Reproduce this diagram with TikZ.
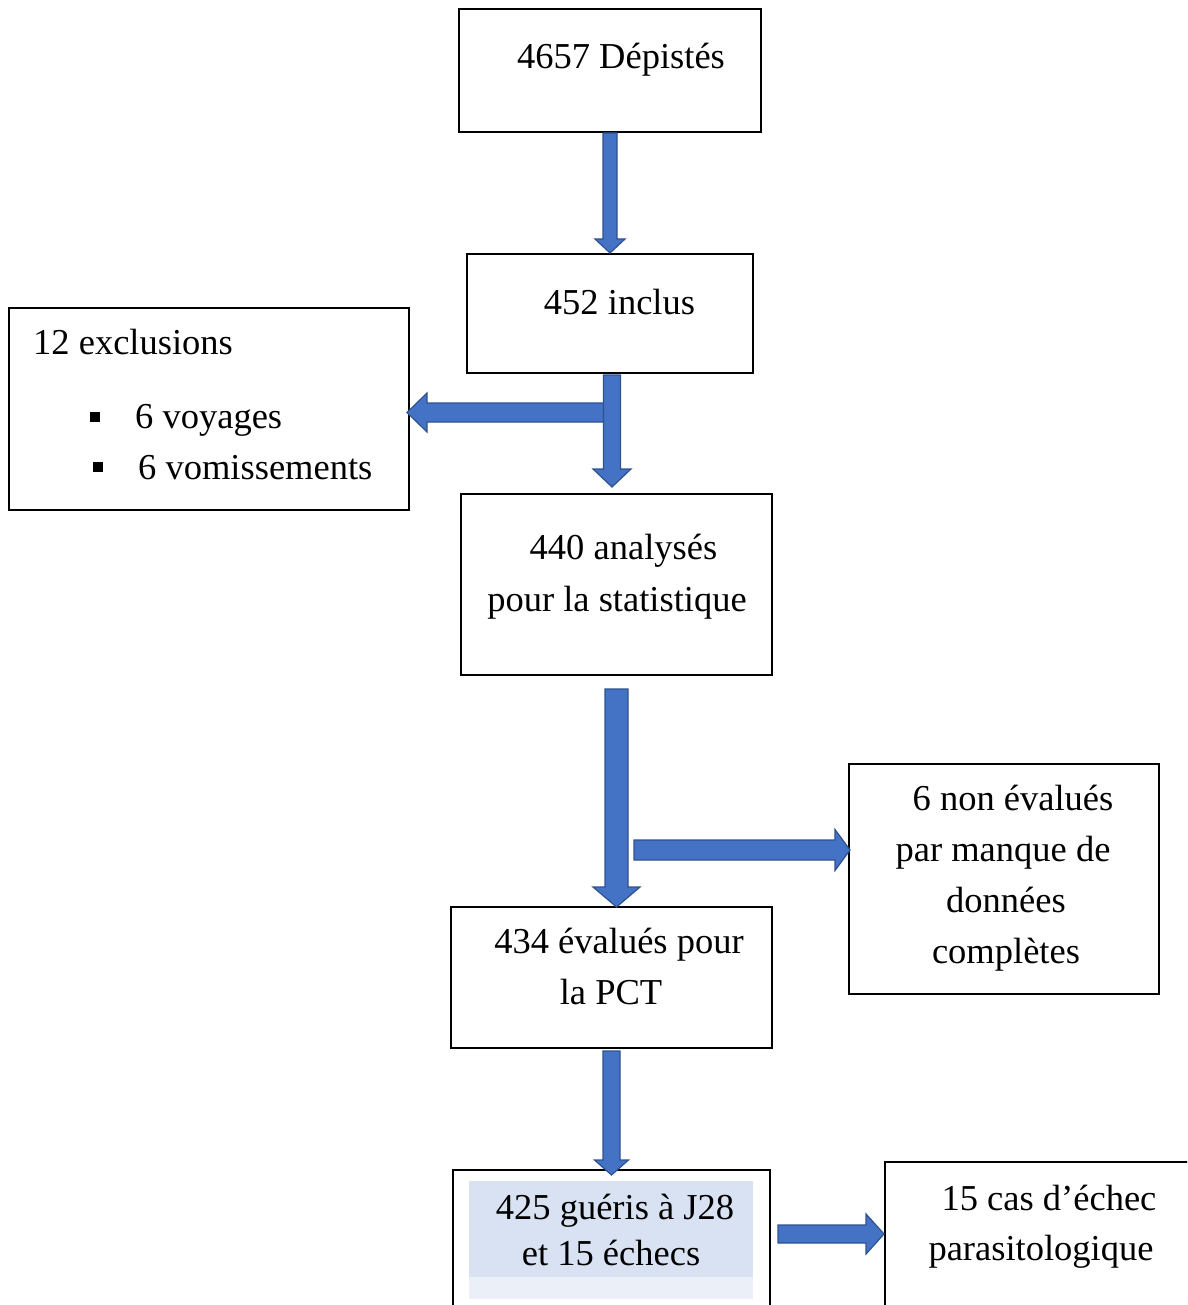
\documentclass[tikz,border=0pt]{standalone}
\usepackage{fontspec}
\setmainfont{Liberation Serif}
\usetikzlibrary{calc}
\definecolor{arrowfill}{HTML}{4472C4}
\definecolor{arrowline}{HTML}{2F528F}
\definecolor{shadeA}{HTML}{D9E2F3}
\definecolor{shadeB}{HTML}{EAEFF8}
\tikzset{
  box/.style={draw=black, line width=2pt, fill=none, inner sep=0pt, rectangle},
  txt/.style={anchor=base, inner sep=0pt, font=\fontsize{36.5}{44}\selectfont},
  blockarrow/.style={fill=arrowfill, draw=arrowline, line width=1.2pt, line join=miter},
  bulletsq/.style={fill=black, inner sep=0pt, minimum size=10pt, rectangle}
}
% down arrow: start, tip, half shaft, half head, head length
\newcommand\darrowblk[5]{\path[blockarrow] let \p1=(#1), \p2=(#2) in
  (\x1-#3pt,\y1) -- (\x1+#3pt,\y1) -- (\x1+#3pt,\y2+#5pt) -- (\x1+#4pt,\y2+#5pt)
  -- (\x1,\y2) -- (\x1-#4pt,\y2+#5pt) -- (\x1-#3pt,\y2+#5pt) -- cycle;}
\newcommand\rarrowblk[5]{\path[blockarrow] let \p1=(#1), \p2=(#2) in
  (\x1,\y1+#3pt) -- (\x2-#5pt,\y1+#3pt) -- (\x2-#5pt,\y1+#4pt) -- (\x2,\y1)
  -- (\x2-#5pt,\y1-#4pt) -- (\x2-#5pt,\y1-#3pt) -- (\x1,\y1-#3pt) -- cycle;}
\newcommand\larrowblk[5]{\path[blockarrow] let \p1=(#1), \p2=(#2) in
  (\x1,\y1+#3pt) -- (\x2+#5pt,\y1+#3pt) -- (\x2+#5pt,\y1+#4pt) -- (\x2,\y1)
  -- (\x2+#5pt,\y1-#4pt) -- (\x2+#5pt,\y1-#3pt) -- (\x1,\y1-#3pt) -- cycle;}
\begin{document}
\begin{tikzpicture}[x=1pt,y=-1pt]
\clip (0,0) rectangle (1187,1305);
\fill[white] (0,0) rectangle (1187,1305);

% boxes
\node[box, minimum width=302pt, minimum height=123pt] (b1) at (610,70.5) {};
\node[box, minimum width=286pt, minimum height=119pt] (b2) at (610,313.5) {};
\node[box, minimum width=400pt, minimum height=202pt] (b3) at (209,409) {};
\node[box, minimum width=311pt, minimum height=181pt] (b4) at (616.5,584.5) {};
\node[box, minimum width=310pt, minimum height=230pt] (b5) at (1004,879) {};
\node[box, minimum width=321pt, minimum height=141pt] (b6) at (611.5,977.5) {};
\node[box, minimum width=317pt, minimum height=150pt] (b7) at (611.5,1245) {};
\node[box, minimum width=315pt, minimum height=158pt] (b8) at (1042.5,1241) {};

% shading inside box 7
\fill[shadeB] (469,1277) rectangle (753,1299);
\fill[shadeA] (469,1181) rectangle (753,1277);

% texts
\node[txt] (t1) at (621,69) {4657 Dépistés};
\node[txt] (t2) at (619.5,314) {452 inclus};
\node[txt, anchor=base west] (t3) at (33,354) {12 exclusions};
\node[bulletsq] (u1) at (95,417) {};
\node[txt, anchor=base west] (t3a) at (135,428) {6 voyages};
\node[bulletsq] (u2) at (98,467) {};
\node[txt, anchor=base west] (t3b) at (138,479) {6 vomissements};
\node[txt] (t4a) at (623.5,559) {440 analysés};
\node[txt] (t4b) at (617,611) {pour la statistique};
\node[txt] (t5a) at (1013,810) {6 non évalués};
\node[txt] (t5b) at (1003,861) {par manque de};
\node[txt] (t5c) at (1006,912) {données};
\node[txt] (t5d) at (1006,963) {complètes};
\node[txt] (t6a) at (619,953) {434 évalués pour};
\node[txt] (t6b) at (611,1004) {la PCT};
\node[txt] (t7a) at (615,1219) {425 guéris à J28};
\node[txt] (t7b) at (611,1265) {et 15 échecs};
\node[txt] (t8a) at (1049,1210) {15 cas d’échec};
\node[txt] (t8b) at (1041,1260) {parasitologique};

% connector coordinates
\coordinate (a2s) at (612,375);
\coordinate (a2e) at (612,487);
\coordinate (a3s) at (605,412.5);
\coordinate (a3e) at (407,412.5);
\coordinate (a4s) at (616.5,689);
\coordinate (a4e) at (616.5,907);
\coordinate (a5s) at (634,850);
\coordinate (a5e) at (850,850);
\coordinate (a6s) at (611.5,1051);
\coordinate (a6e) at (611.5,1175);
\coordinate (a7s) at (778,1234);
\coordinate (a7e) at (884,1234);

% arrows
\darrowblk{b1.south}{b2.north}{7}{15}{14}
\larrowblk{a3s}{a3e}{9.5}{19.5}{20}
\darrowblk{a2s}{a2e}{8.5}{19}{18}
\darrowblk{a4s}{a4e}{11.5}{23.5}{20}
\rarrowblk{a5s}{a5e}{10}{20.5}{15}
\darrowblk{a6s}{a6e}{8.5}{17}{15}
\rarrowblk{a7s}{a7e}{9}{20}{18}
\end{tikzpicture}
\end{document}
